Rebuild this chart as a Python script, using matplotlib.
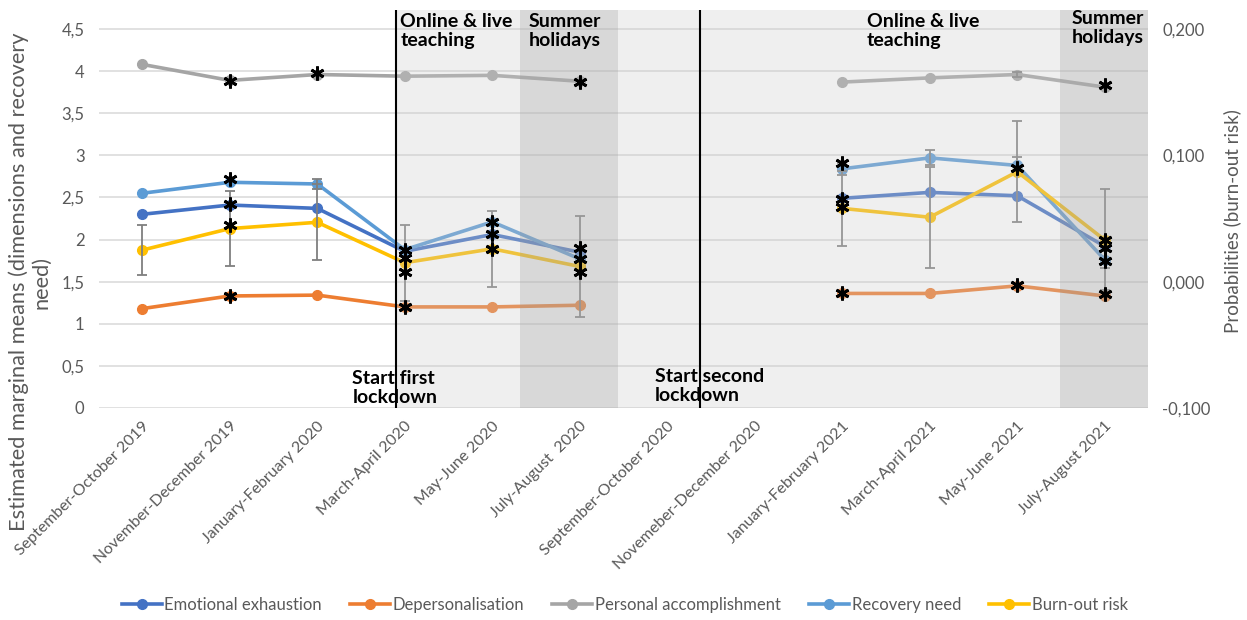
import numpy as np
import matplotlib
matplotlib.use("Agg")
import matplotlib.pyplot as plt
from matplotlib.ticker import FuncFormatter

plt.rcParams['font.family'] = ['Lato', 'DejaVu Sans']

nan = np.nan
categories = ["September-October 2019", "November-December 2019", "January-February 2020",
              "March-April 2020", "May-June 2020", "July-August  2020", "September-October 2020",
              "Novemeber-December 2020", "January-February 2021", "March-April 2021",
              "May-June 2021", "July-August 2021"]

emotional_exhaustion = [2.30, 2.41, 2.37, 1.86, 2.06, 1.85, nan, nan, 2.49, 2.56, 2.52, 1.92]
depersonalisation = [1.18, 1.33, 1.34, 1.20, 1.20, 1.22, nan, nan, 1.36, 1.36, 1.45, 1.33]
personal_accomplishment = [4.08, 3.89, 3.96, 3.94, 3.95, 3.88, nan, nan, 3.87, 3.92, 3.96, 3.81]
recovery_need = [2.55, 2.68, 2.66, 1.88, 2.21, 1.77, nan, nan, 2.84, 2.97, 2.88, 1.76]
burnout_risk = [0.025, 0.042, 0.047, 0.015, 0.026, 0.012, nan, nan, 0.058, 0.051, 0.087, 0.033]

burnout_err = [0.020, 0.030, 0.030, 0.030, 0.030, 0.040, nan, nan, 0.030, 0.040, 0.040, 0.040]
recovery_err = [nan, nan, 0.06, nan, nan, nan, nan, nan, 0.07, 0.09, 0.10, 0.10]
accomplishment_err = [nan, nan, nan, nan, nan, nan, nan, nan, nan, nan, 0.03, nan]

# significance asterisks (category index, value on left axis)
star_idx = [1, 1, 1, 1, 1, 2, 3, 3, 3, 3, 4, 4, 4, 5, 5, 5, 5, 8, 8, 8, 8, 10, 10, 11, 11, 11, 11, 11]
star_val = [3.88, 2.72, 2.42, 2.17, 1.33, 3.98, 1.88, 1.78, 1.62, 1.20, 2.21, 2.06, 1.89,
            3.87, 1.90, 1.77, 1.62, 2.91, 2.48, 2.39, 1.36, 2.85, 1.46, 3.83, 2.00, 1.90, 1.75, 1.35]

left_ticks = [0, 0.5, 1, 1.5, 2, 2.5, 3, 3.5, 4, 4.5]
right_ticks = [-0.1, 0.0, 0.1, 0.2]

colors = {
    "Emotional exhaustion": "#4472C4",
    "Depersonalisation": "#ED7D31",
    "Personal accomplishment": "#A5A5A5",
    "Recovery need": "#5B9BD5",
    "Burn-out risk": "#FFC000",
}
grey_txt = "#595959"

fig = plt.figure(figsize=(12.47, 6.2), dpi=100)
ax = fig.add_axes([0.079, 0.342, 0.842, 0.642])
ax2 = ax.twinx()

x = np.arange(len(categories))
YMAX = 4.727
ax.set_xlim(-0.5, 11.5)
ax.set_ylim(0, YMAX)
ax2.set_ylim(-0.1, -0.1 + YMAX / 15.0)

# gridlines
ax.set_yticks(left_ticks)
ax.yaxis.grid(True, color="#D9D9D9", lw=1.1, zorder=0)
ax.set_axisbelow(True)

lw = 2.6
ms = 7
handles = []
for name, vals in [("Emotional exhaustion", emotional_exhaustion),
                   ("Depersonalisation", depersonalisation),
                   ("Personal accomplishment", personal_accomplishment),
                   ("Recovery need", recovery_need)]:
    h, = ax.plot(x, vals, color=colors[name], lw=lw, marker='o', ms=ms, label=name, zorder=3)
    handles.append(h)
hb, = ax2.plot(x, burnout_risk, color=colors["Burn-out risk"], lw=lw, marker='o', ms=ms,
               label="Burn-out risk", zorder=2)
handles.append(hb)

eb_kw = dict(fmt='none', ecolor="#7F7F7F", elinewidth=1.3, capsize=3.5, capthick=1.3)
ax.errorbar(x, recovery_need, yerr=recovery_err, zorder=4, **eb_kw)
ax.errorbar(x, personal_accomplishment, yerr=accomplishment_err, zorder=4, **eb_kw)
ax2.errorbar(x, burnout_risk, yerr=burnout_err, zorder=2.5, **eb_kw)

# shaded periods (drawn over the lines on the top axis, semi-transparent)
lock1, lock2 = 2.9, 6.37
ax2.axvspan(lock1, 11.5, facecolor=(0.80, 0.80, 0.80), alpha=0.30, lw=0, zorder=3)
ax2.axvspan(4.32, 5.44, facecolor=(0.60, 0.60, 0.60), alpha=0.26, lw=0, zorder=3)
ax2.axvspan(10.49, 11.5, facecolor=(0.60, 0.60, 0.60), alpha=0.26, lw=0, zorder=3)

# lockdown lines
ax2.axvline(lock1, color="black", lw=1.5, zorder=4)
ax2.axvline(lock2, color="black", lw=1.5, zorder=4)

# asterisks (converted to right-axis units since drawn on the top axis)
ax2.plot(np.array(star_idx), np.array(star_val) / 15.0 - 0.1, linestyle='none',
         marker=(6, 2, 0), ms=10, mew=2.0, color="black", zorder=6)

# annotations (on the top axis, in left-axis data coordinates)
tkw = dict(fontsize=14, fontweight='bold', color='black', va='top', ha='left',
           zorder=7, linespacing=1.15, transform=ax.transData)
ax2.text(2.95, 4.69, "Online & live\nteaching", **tkw)
ax2.text(4.42, 4.69, "Summer\nholidays", **tkw)
ax2.text(8.28, 4.69, "Online & live\nteaching", **tkw)
ax2.text(10.62, 4.73, "Summer\nholidays", **tkw)
ax2.text(2.40, 0.45, "Start first\nlockdown", **tkw)
ax2.text(5.86, 0.47, "Start second\nlockdown", **tkw)

# axes styling
for a in (ax, ax2):
    for s in a.spines.values():
        s.set_visible(False)
    a.tick_params(length=0)

ax.set_xticks(x)
ax.set_xticklabels(categories, rotation=45, ha='right', va='top', rotation_mode='anchor',
                   fontsize=11.5, color=grey_txt)
ax.tick_params(axis='x', pad=8)
ax.yaxis.set_major_formatter(FuncFormatter(lambda v, p: f"{v:g}".replace('.', ',')))
ax.tick_params(axis='y', labelsize=12, labelcolor=grey_txt, pad=10)

ax2.set_yticks(right_ticks)
ax2.yaxis.set_major_formatter(FuncFormatter(lambda v, p: f"{v:.3f}".replace('.', ',')))
ax2.tick_params(axis='y', labelsize=12, labelcolor=grey_txt, pad=10)

fig.text(0.024, 0.545, "Estimated marginal means (dimensions and recovery\nneed)",
         rotation=90, ha='center', va='center', fontsize=15.7, color=grey_txt, linespacing=1.1)
fig.text(0.988, 0.643, "Probabilities (burn-out risk)", rotation=90, ha='center', va='center',
         fontsize=13.5, color=grey_txt)

fig.legend(handles=handles, loc='center', bbox_to_anchor=(0.501, 0.024), ncol=5, frameon=False,
           fontsize=12, handlelength=2.4, handletextpad=0.15, columnspacing=1.7,
           labelcolor=grey_txt, numpoints=1)

fig.savefig("out.png", dpi=100)
